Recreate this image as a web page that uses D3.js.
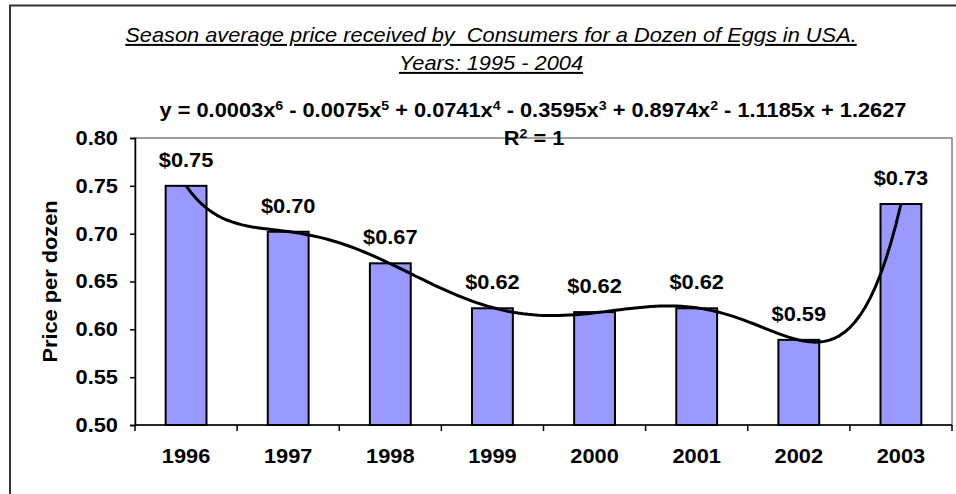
<!DOCTYPE html>
<html>
<head>
<meta charset="utf-8">
<script src="https://cdn.jsdelivr.net/npm/d3@7"></script>
<style>
  html, body { margin: 0; padding: 0; background: #fff; }
  svg { display: block; font-family: "Liberation Sans", Arial, sans-serif; }
  text { white-space: pre; }
</style>
</head>
<body>
<svg id="chart" width="956" height="494"></svg>
<script>
// Season average egg prices (USD per dozen)
const years = ["1996", "1997", "1998", "1999", "2000", "2001", "2002", "2003"];
const prices = [0.750, 0.702, 0.669, 0.622, 0.618, 0.622, 0.589, 0.731];
const yTicks = [0.50, 0.55, 0.60, 0.65, 0.70, 0.75, 0.80];
const titleLines = [
  "Season average price received by  Consumers for a Dozen of Eggs in USA.",
  "Years: 1995 - 2004"
];
const yAxisTitle = "Price per dozen";
// Displayed trendline equation: [coefficient text, power] pieces
const eqTerms = [
  ["y = 0.0003x", "6"], [" - 0.0075x", "5"], [" + 0.0741x", "4"],
  [" - 0.3595x", "3"], [" + 0.8974x", "2"], [" - 1.1185x + 1.2627", null]
];
const trendDegree = 6;

// Glyphs are drawn slightly wide, as in the original spreadsheet export
const SX = 1.09;

const svg = d3.select("#chart");
const plot = { left: 135, right: 952, top: 138, bottom: 425 };

// Text helper: places a horizontally widened label at (x, y)
function label(parent, x, y, rotate) {
  return parent.append("text")
    .attr("transform", `translate(${x},${y})${rotate ? ` rotate(${rotate})` : ""} scale(${SX},1)`);
}

// Outer chart frame
svg.append("rect")
  .attr("x", 10).attr("y", 5.5)
  .attr("width", 960).attr("height", 500)
  .attr("fill", "#fff").attr("stroke", "#333").attr("stroke-width", 2);

const band = d3.scaleBand().domain(years).range([plot.left, plot.right]);
const x = d3.scaleBand().domain(years).range([plot.left, plot.right]).paddingInner(0.6).paddingOuter(0.3);
const y = d3.scaleLinear().domain([0.5, 0.8]).range([plot.bottom, plot.top]);
const cx = d => band(d) + band.bandwidth() / 2;

// Plot area border
svg.append("rect")
  .attr("x", plot.left).attr("y", plot.top)
  .attr("width", plot.right - plot.left).attr("height", plot.bottom - plot.top)
  .attr("fill", "none").attr("stroke", "#808080").attr("stroke-width", 1.5);

// Bars
svg.append("g").selectAll("rect").data(prices).join("rect")
  .attr("x", (d, i) => x(years[i]))
  .attr("y", d => y(d))
  .attr("width", x.bandwidth())
  .attr("height", d => y(0.5) - y(d))
  .attr("fill", "#9999ff").attr("stroke", "#000").attr("stroke-width", 2);

// Polynomial least-squares trendline (x = 1..n, as in spreadsheet trendlines)
function polyFit(xs, ys, deg) {
  const c = 4.5, s = 3.5;
  const n = deg + 1;
  const A = Array.from({ length: n }, () => new Array(n + 1).fill(0));
  xs.forEach((xv, k) => {
    const t = (xv - c) / s;
    const pw = [];
    for (let i = 0; i < 2 * n; i++) pw.push(Math.pow(t, i));
    for (let i = 0; i < n; i++) {
      for (let j = 0; j < n; j++) A[i][j] += pw[i + j];
      A[i][n] += pw[i] * ys[k];
    }
  });
  for (let col = 0; col < n; col++) {
    let piv = col;
    for (let r = col + 1; r < n; r++) if (Math.abs(A[r][col]) > Math.abs(A[piv][col])) piv = r;
    [A[col], A[piv]] = [A[piv], A[col]];
    for (let r = 0; r < n; r++) {
      if (r === col) continue;
      const f = A[r][col] / A[col][col];
      for (let j = col; j <= n; j++) A[r][j] -= f * A[col][j];
    }
  }
  const coef = A.map((row, i) => row[n] / row[i]);
  return xv => {
    const t = (xv - c) / s;
    return coef.reduce((acc, cf, i) => acc + cf * Math.pow(t, i), 0);
  };
}
const xIdx = years.map((d, i) => i + 1);
const trend = polyFit(xIdx, prices, trendDegree);
const xt = d3.scaleLinear().domain([1, years.length])
  .range([cx(years[0]), cx(years[years.length - 1])]);
const trendPts = d3.range(1, years.length + 0.0001, 0.05);
svg.append("path")
  .datum(trendPts)
  .attr("fill", "none").attr("stroke", "#000").attr("stroke-width", 3)
  .attr("stroke-linejoin", "round")
  .attr("d", d3.line().x(d => xt(d)).y(d => y(trend(d))));

// Y axis
const yAxis = svg.append("g")
  .attr("transform", `translate(${plot.left},0)`)
  .call(d3.axisLeft(y).tickValues(yTicks).tickFormat(d3.format(".2f")).tickSize(5).tickPadding(10.6));
yAxis.select(".domain").attr("stroke", "#000").attr("stroke-width", 1.5);
yAxis.selectAll(".tick line").attr("stroke", "#000").attr("stroke-width", 1.5);
yAxis.selectAll(".tick text")
  .attr("transform", `scale(${SX},1)`)
  .attr("font-size", 20).attr("font-weight", "bold").attr("fill", "#000")
  .attr("font-family", "Liberation Sans, Arial, sans-serif");

// X axis with ticks between categories
const xAxisG = svg.append("g").attr("transform", `translate(0,${plot.bottom})`);
xAxisG.append("line")
  .attr("x1", plot.left).attr("x2", plot.right)
  .attr("stroke", "#000").attr("stroke-width", 1.5);
xAxisG.selectAll("line.tk").data(d3.range(years.length + 1)).join("line")
  .attr("class", "tk")
  .attr("x1", i => plot.left + i * band.step()).attr("x2", i => plot.left + i * band.step())
  .attr("y1", 0).attr("y2", 6)
  .attr("stroke", "#000").attr("stroke-width", 1.5);
years.forEach(yr => {
  label(xAxisG, cx(yr), 38)
    .attr("text-anchor", "middle")
    .attr("font-size", 20).attr("font-weight", "bold")
    .text(yr);
});

// Value labels
const valG = svg.append("g");
prices.forEach((p, i) => {
  label(valG, cx(years[i]), y(p) - 19)
    .attr("text-anchor", "middle")
    .attr("font-size", 20).attr("font-weight", "bold")
    .text("$" + d3.format(".2f")(p));
});

// Y axis title
label(svg, 57, (plot.top + plot.bottom) / 2, -90)
  .attr("text-anchor", "middle")
  .attr("font-size", 20).attr("font-weight", "bold")
  .text(yAxisTitle);

// Chart title (italic, underlined)
titleLines.forEach((t, i) => {
  label(svg, 491, 42 + i * 28)
    .attr("text-anchor", "middle")
    .attr("font-size", 20).attr("font-style", "italic")
    .attr("text-decoration", "underline")
    .text(t);
});

// Trendline equation and R²
const eq = label(svg, 533, 117)
  .attr("text-anchor", "middle")
  .attr("font-size", 20).attr("font-weight", "bold");
let raised = false;
eqTerms.forEach(([base, pow]) => {
  eq.append("tspan").attr("dy", raised ? 7 : 0).text(base);
  raised = false;
  if (pow) {
    eq.append("tspan").attr("font-size", 13).attr("dy", -7).text(pow);
    raised = true;
  }
});
const r2 = label(svg, 534, 145)
  .attr("text-anchor", "middle")
  .attr("font-size", 20).attr("font-weight", "bold");
r2.append("tspan").text("R");
r2.append("tspan").attr("font-size", 13).attr("dy", -7).text("2");
r2.append("tspan").attr("dy", 7).text(" = 1");
</script>
</body>
</html>
